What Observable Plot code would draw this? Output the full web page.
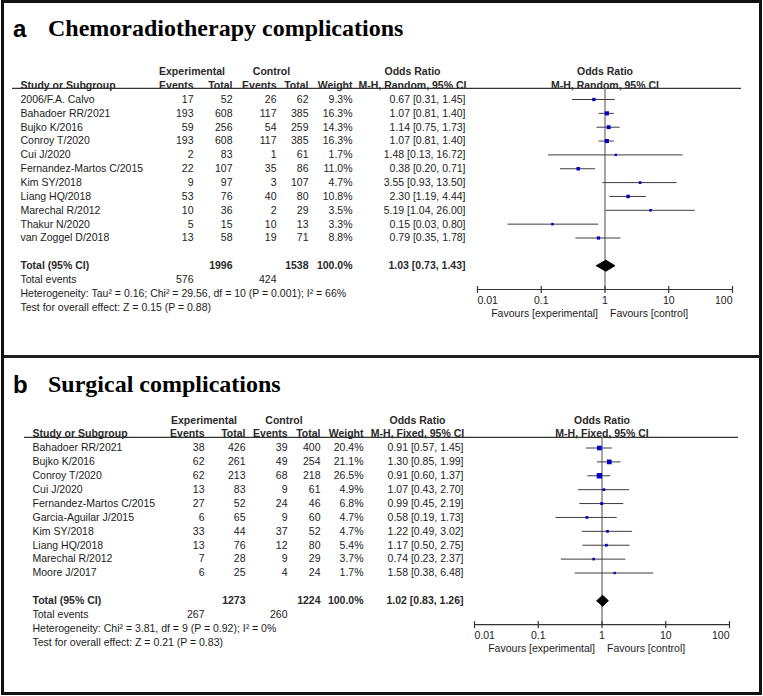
<!DOCTYPE html>
<html><head><meta charset="utf-8">
<script src="https://cdn.jsdelivr.net/npm/d3@7"></script>
<script src="https://cdn.jsdelivr.net/npm/@observablehq/plot@0.6"></script>
<style>
html,body{margin:0;padding:0;background:#fff;overflow:hidden;}
#root{position:relative;width:763px;height:696px;}
.frame{position:absolute;left:1px;top:0;width:761px;height:695px;border:3px solid #111;box-sizing:border-box;z-index:5;pointer-events:none;}
.sep{position:absolute;left:1px;top:355px;width:761px;height:3px;background:#1e1e1e;z-index:5;}
.title{position:absolute;left:0;width:763px;height:24px;line-height:24px;white-space:nowrap;color:#000;}
.title .lt{position:absolute;left:13px;top:0;font:bold 24px Arial,"Liberation Sans",sans-serif;}
.title .tx{position:absolute;left:48px;top:0;font:bold 24px "Times New Roman","Liberation Serif",serif;}
.panel{position:absolute;left:0;}
</style></head>
<body><div id="root">
<div class="title" style="top:15px"><span class="lt">a</span><span class="tx">Chemoradiotherapy complications</span></div>
<div class="panel" id="pa" style="top:45px"></div>
<div class="title" style="top:371px"><span class="lt">b</span><span class="tx">Surgical complications</span></div>
<div class="panel" id="pb" style="top:360px"></div>
<div class="sep"></div>
<div class="frame"></div>
</div>
<script>
// ---------- Panel a: Chemoradiotherapy complications ----------
const studiesA = ["2006/F.A. Calvo", "Bahadoer RR/2021", "Bujko K/2016", "Conroy T/2020", "Cui J/2020", "Fernandez-Martos C/2015", "Kim SY/2018", "Liang HQ/2018", "Marechal R/2012", "Thakur N/2020", "van Zoggel D/2018"];
const expEventsA = [17, 193, 59, 193, 2, 22, 9, 53, 10, 5, 13];
const expTotalA = [52, 608, 256, 608, 83, 107, 97, 76, 36, 15, 58];
const ctrlEventsA = [26, 117, 54, 117, 1, 35, 3, 40, 2, 10, 19];
const ctrlTotalA = [62, 385, 259, 385, 61, 86, 107, 80, 29, 13, 71];
const weightA = [9.3, 16.3, 14.3, 16.3, 1.7, 11.0, 4.7, 10.8, 3.5, 3.3, 8.8];
const orA = [0.67, 1.07, 1.14, 1.07, 1.48, 0.38, 3.55, 2.30, 5.19, 0.15, 0.79];
const loA = [0.31, 0.81, 0.75, 0.81, 0.13, 0.20, 0.93, 1.19, 1.04, 0.03, 0.35];
const hiA = [1.45, 1.40, 1.73, 1.40, 16.72, 0.71, 13.50, 4.44, 26.00, 0.80, 1.78];
const totalA = {expTotal: 1996, ctrlTotal: 1538, weight: "100.0%", or: 1.03, lo: 0.73, hi: 1.43, expEvents: 576, ctrlEvents: 424};
const hetA = "Heterogeneity: Tau² = 0.16; Chi² = 29.56, df = 10 (P = 0.001); I² = 66%";
const testA = "Test for overall effect: Z = 0.15 (P = 0.88)";
const methodA = "M-H, Random, 95% CI";

// ---------- Panel b: Surgical complications ----------
const studiesB = ["Bahadoer RR/2021", "Bujko K/2016", "Conroy T/2020", "Cui J/2020", "Fernandez-Martos C/2015", "Garcia-Aguilar J/2015", "Kim SY/2018", "Liang HQ/2018", "Marechal R/2012", "Moore J/2017"];
const expEventsB = [38, 62, 62, 13, 27, 6, 33, 13, 7, 6];
const expTotalB = [426, 261, 213, 83, 52, 65, 44, 76, 28, 25];
const ctrlEventsB = [39, 49, 68, 9, 24, 9, 37, 12, 9, 4];
const ctrlTotalB = [400, 254, 218, 61, 46, 60, 52, 80, 29, 24];
const weightB = [20.4, 21.1, 26.5, 4.9, 6.8, 4.7, 4.7, 5.4, 3.7, 1.7];
const orB = [0.91, 1.30, 0.91, 1.07, 0.99, 0.58, 1.22, 1.17, 0.74, 1.58];
const loB = [0.57, 0.85, 0.60, 0.43, 0.45, 0.19, 0.49, 0.50, 0.23, 0.38];
const hiB = [1.45, 1.99, 1.37, 2.70, 2.19, 1.73, 3.02, 2.75, 2.37, 6.48];
const totalB = {expTotal: 1273, ctrlTotal: 1224, weight: "100.0%", or: 1.02, lo: 0.83, hi: 1.26, expEvents: 267, ctrlEvents: 260};
const hetB = "Heterogeneity: Chi² = 3.81, df = 9 (P = 0.92); I² = 0%";
const testB = "Test for overall effect: Z = 0.21 (P = 0.83)";
const methodB = "M-H, Fixed, 95% CI";

// axis ticks
const tickValues = [0.01, 0.1, 1, 10, 100];
const tickLabels = ["0.01", "0.1", "1", "10", "100"];
const favLeft = "Favours [experimental]";
const favRight = "Favours [control]";

const ink = "#1c1c1c";
const headInk = "#2a2a2a";
const squareColor = "#0000c8";

function panel(P, L) {
  const n = P.studies.length;
  const rows = d3.range(n);
  const totalRow = n + 1, eventsRow = n + 2, hetRow = n + 3, testRow = n + 4;
  const axisRow = totalRow + 1.72, labelRow = totalRow + 2.5, favRow = totalRow + 3.44;
  const ml = L.marginLeft;
  const f2 = v => v.toFixed(2);
  const orLabel = (o, l, h) => `${f2(o)} [${f2(l)}, ${f2(h)}]`;
  const T = (texts, ys, px, anchor, extra = {}) =>
    Plot.text(texts, {frameAnchor: "left", y: ys, text: d => `${d}`, dx: px - ml, textAnchor: anchor, fill: ink, ...extra});
  const B = {fontWeight: "bold", fill: headInk};
  const studies = rows.map(i => ({i, or: P.or[i], lo: P.lo[i], hi: P.hi[i], w: P.weight[i]}));
  const t = P.total;
  const diamond = [
    {x: t.lo, y: totalRow}, {x: t.or, y: totalRow - 0.4}, {x: t.hi, y: totalRow},
    {x: t.or, y: totalRow + 0.4}, {x: t.lo, y: totalRow}
  ];
  return Plot.plot({
    width: 763, height: L.height,
    marginLeft: ml, marginRight: 763 - L.ruleRight, marginTop: 0, marginBottom: 0,
    style: {fontFamily: 'Arial, "Liberation Sans", sans-serif', fontSize: "10.5px", background: "transparent", overflow: "visible"},
    x: {type: "log", domain: [0.01, 100], range: [L.x0, L.x1], axis: null},
    y: {domain: [0, n - 1], range: [L.row0 - L.top, L.rowLast - L.top], axis: null},
    r: {type: "linear", domain: [0, 30], range: [1.2, 3.3]},
    marks: [
      // header row 1
      T(["Experimental"], [-2], L.expHead, "middle", B),
      T(["Control"], [-2], L.ctrlHead, "middle", B),
      T(["Odds Ratio"], [-2], L.orHead, "middle", B),
      Plot.text(["Odds Ratio"], {x: () => 1, y: () => -2, text: d => d, ...B}),
      // header row 2
      T(["Study or Subgroup"], [-1], L.study, "start", B),
      T(["Events"], [-1], L.expEv, "end", B),
      T(["Total"], [-1], L.expTot, "end", B),
      T(["Events"], [-1], L.ctrlEv, "end", B),
      T(["Total"], [-1], L.ctrlTot, "end", B),
      T(["Weight"], [-1], L.weight, "end", B),
      T([P.method], [-1], L.orHead, "middle", B),
      Plot.text([P.method], {x: () => 1, y: () => -1, text: d => d, ...B}),
      Plot.ruleY([L.underlineRow], {stroke: "#333", strokeWidth: 1.3}),
      // study rows
      T(P.studies, rows, L.study, "start"),
      T(P.expEvents, rows, L.expEv, "end"),
      T(P.expTotal, rows, L.expTot, "end"),
      T(P.ctrlEvents, rows, L.ctrlEv, "end"),
      T(P.ctrlTotal, rows, L.ctrlTot, "end"),
      T(P.weight.map(w => w.toFixed(1) + "%"), rows, L.weight, "end"),
      T(rows.map(i => orLabel(P.or[i], P.lo[i], P.hi[i])), rows, L.orText, "end"),
      // totals
      T(["Total (95% CI)"], [totalRow], L.study, "start", B),
      T([t.expTotal], [totalRow], L.expTot, "end", B),
      T([t.ctrlTotal], [totalRow], L.ctrlTot, "end", B),
      T([t.weight], [totalRow], L.weight, "end", B),
      T([orLabel(t.or, t.lo, t.hi)], [totalRow], L.orText, "end", B),
      T(["Total events"], [eventsRow], L.study, "start"),
      T([t.expEvents], [eventsRow], L.expEv, "end"),
      T([t.ctrlEvents], [eventsRow], L.ctrlEv, "end"),
      T([P.het], [hetRow], L.study, "start"),
      T([P.test], [testRow], L.study, "start"),
      // forest
      Plot.ruleX([1], {y1: () => L.underlineRow, y2: () => axisRow, stroke: "#6a6a6a", strokeWidth: 1.2}),
      Plot.ruleY(studies, {y: "i", x1: "lo", x2: "hi", stroke: "#3c3c3c", strokeWidth: 1}),
      Plot.dot(studies, {x: "or", y: "i", r: "w", symbol: "square", fill: squareColor, stroke: null}),
      Plot.line(diamond, {x: "x", y: "y", fill: "#000", stroke: "#000", strokeWidth: 1}),
      // axis
      Plot.ruleY([axisRow], {x1: () => tickValues[0], x2: () => tickValues[tickValues.length - 1], stroke: "#333", strokeWidth: 1.2}),
      Plot.ruleX(tickValues, {x: d => d, y1: () => axisRow - 0.22, y2: () => axisRow + 0.28, stroke: "#333", strokeWidth: 1.2}),
      Plot.text(tickValues.slice(0, 1), {x: d => d, y: () => labelRow, text: (d, i) => tickLabels[0], textAnchor: "start", fill: ink}),
      Plot.text(tickValues.slice(1, -1), {x: d => d, y: () => labelRow, text: (d, i) => tickLabels[i + 1], textAnchor: "middle", fill: ink}),
      Plot.text(tickValues.slice(-1), {x: d => d, y: () => labelRow, text: (d, i) => tickLabels[tickLabels.length - 1], textAnchor: "end", fill: ink}),
      Plot.text([1], {x: d => d, y: () => favRow, text: () => favLeft, textAnchor: "end", dx: -7, fill: ink}),
      Plot.text([1], {x: d => d, y: () => favRow, text: () => favRight, textAnchor: "start", dx: 5, fill: ink})
    ]
  });
}

const PA = {studies: studiesA, expEvents: expEventsA, expTotal: expTotalA, ctrlEvents: ctrlEventsA, ctrlTotal: ctrlTotalA,
  weight: weightA, or: orA, lo: loA, hi: hiA, total: totalA, het: hetA, test: testA, method: methodA};
const PB = {studies: studiesB, expEvents: expEventsB, expTotal: expTotalB, ctrlEvents: ctrlEventsB, ctrlTotal: ctrlTotalB,
  weight: weightB, or: orB, lo: loB, hi: hiB, total: totalB, het: hetB, test: testB, method: methodB};

const LA = {top: 45, height: 310, marginLeft: 12, ruleRight: 741, x0: 477, x1: 732, row0: 99, rowLast: 237.5, underlineRow: -0.8,
  study: 20, expEv: 193, expTot: 232, ctrlEv: 276, ctrlTot: 308, weight: 352, orText: 465,
  expHead: 191.5, ctrlHead: 271, orHead: 412};
const LB = {top: 360, height: 330, marginLeft: 24, ruleRight: 738, x0: 474, x1: 729, row0: 447.5, rowLast: 572.5, underlineRow: -0.76,
  study: 32, expEv: 204, expTot: 245, ctrlEv: 287, ctrlTot: 320, weight: 363, orText: 463,
  expHead: 203.5, ctrlHead: 283.5, orHead: 417};

document.getElementById("pa").append(panel(PA, LA));
document.getElementById("pb").append(panel(PB, LB));
</script>
</body></html>
